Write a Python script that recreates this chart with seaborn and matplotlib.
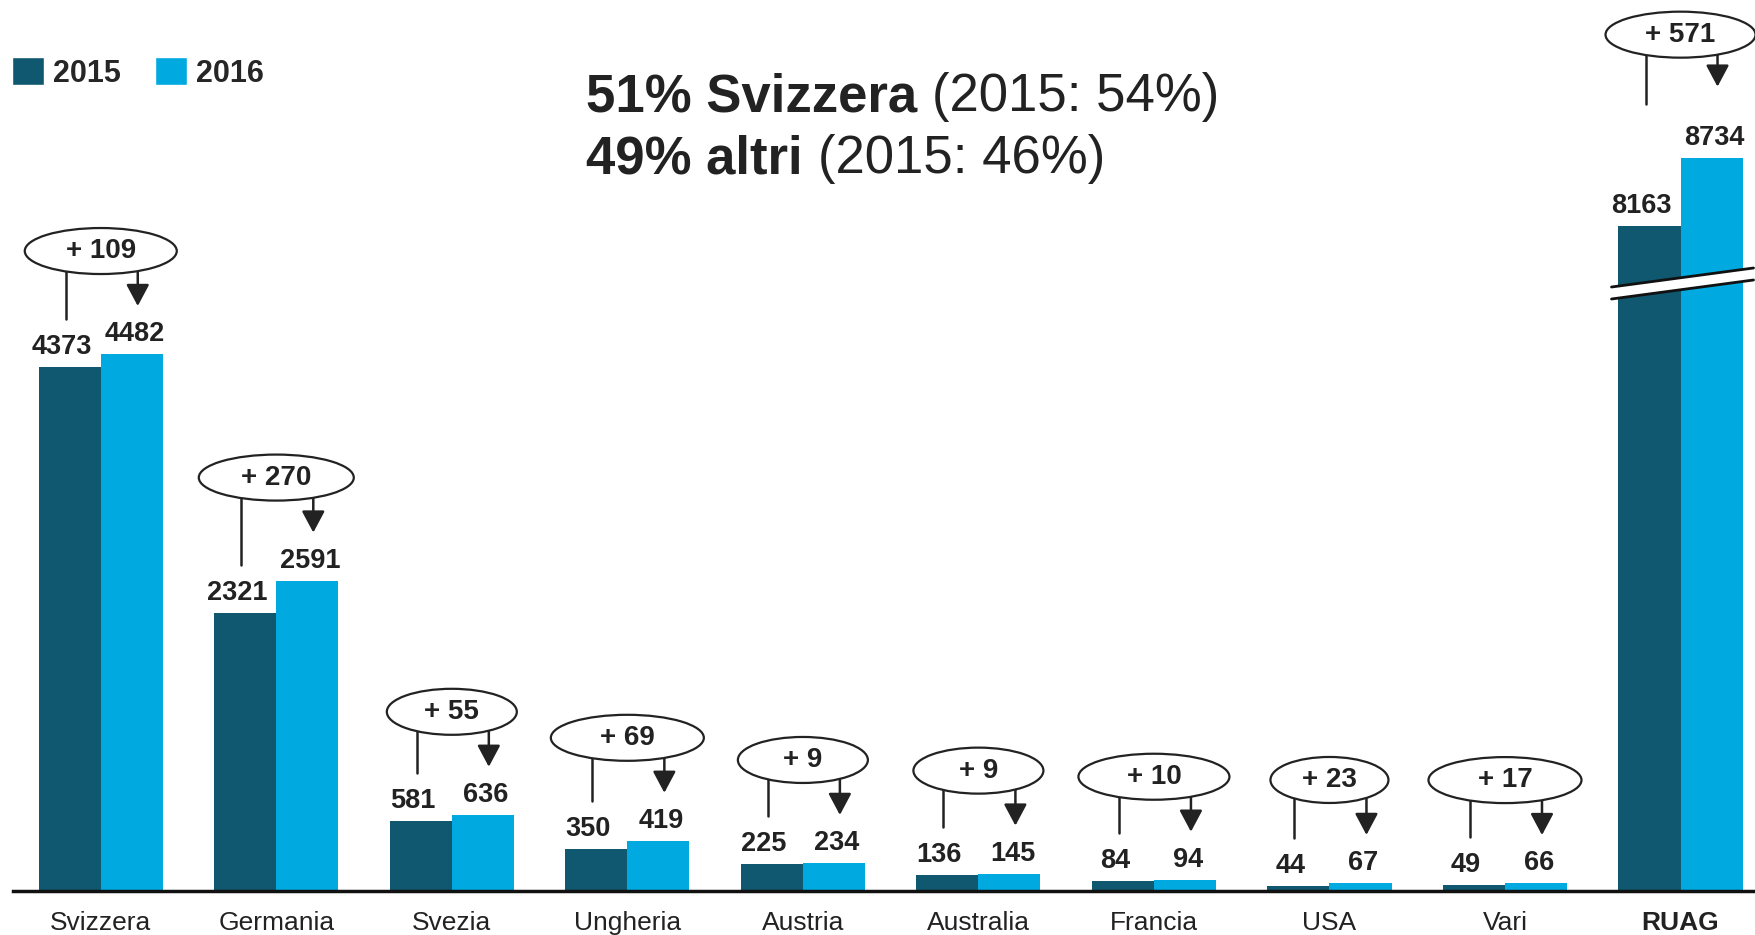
import pandas as pd
import matplotlib.pyplot as plt
import seaborn as sns
from matplotlib.patches import Ellipse, Polygon, Patch

# dati
paesi = ['Svizzera', 'Germania', 'Svezia', 'Ungheria', 'Austria',
         'Australia', 'Francia', 'USA', 'Vari', 'RUAG']
v2015 = [4373, 2321, 581, 350, 225, 136, 84, 44, 49, 8163]
v2016 = [4482, 2591, 636, 419, 234, 145, 94, 67, 66, 8734]
anni = ['2015', '2016']
titolo_bold = ['51% Svizzera', '49% altri']
titolo_reg = ['(2015: 54%)', '(2015: 46%)']

# stile
scuro = '#10586f'
chiaro = '#00aae0'
nero = '#222222'
taglio = 2613          # asse interrotto per RUAG
bubble_w = [152, 155, 130, 153, 130, 130, 151, 118, 153, 150]  # px

sns.set_style('white')
plt.rcParams['font.family'] = ['Liberation Sans', 'DejaVu Sans']

W, H = 1756, 935
YTOP = 7437
fig = plt.figure(figsize=(W / 100, H / 100), dpi=100)
ax = fig.add_axes([13 / W, 44 / H, 1 - 13 / W, 891 / H])


def py(p):
    return p * YTOP / 891


def px(p):
    return p * 9.93 / 1743


righe = []
for i, p in enumerate(paesi):
    off = taglio if p == 'RUAG' else 0
    righe.append({'paese': p, 'anno': '2015', 'valore': v2015[i], 'mostrato': v2015[i] - off})
    righe.append({'paese': p, 'anno': '2016', 'valore': v2016[i], 'mostrato': v2016[i] - off})
df = pd.DataFrame(righe)

sns.barplot(data=df, x='paese', y='mostrato', hue='anno', hue_order=anni,
            palette=[scuro, chiaro], width=0.707, saturation=1, linewidth=0,
            legend=False, ax=ax)

ax.set_xlim(-0.5, 9.43)
ax.set_ylim(0, YTOP)
ax.set_xlabel('')
ax.set_ylabel('')
ax.set_yticks([])
for s in ['top', 'right', 'left']:
    ax.spines[s].set_visible(False)
ax.spines['bottom'].set_linewidth(2.5)
ax.spines['bottom'].set_color('#111111')
ax.tick_params(axis='x', length=0, pad=14.5, labelsize=19, labelcolor=nero)
ax.get_xticklabels()[-1].set_fontweight('bold')

hb = 0.707 / 2
for i, p in enumerate(paesi):
    off = taglio if p == 'RUAG' else 0
    a = v2015[i] - off
    b = v2016[i] - off
    x1 = i - hb / 2
    x2 = i + hb / 2
    ax.text(x1 - px(8), a + py(13), str(v2015[i]), ha='center', va='baseline',
            fontsize=19.5, fontweight='bold', color=nero, zorder=6)
    ax.text(x2 + px(3), b + py(13), str(v2016[i]), ha='center', va='baseline',
            fontsize=19.5, fontweight='bold', color=nero, zorder=6)

    top = max(a, b)
    if p == 'RUAG':
        yc = top + py(123)
        end_l = b + py(54)
        end_r = b + py(71)
    else:
        yc = top + py(103)
        end_l = a + py(48)
        end_r = b + py(48)
    ell = Ellipse((i, yc), px(bubble_w[i]), py(46), facecolor='white',
                  edgecolor=nero, lw=1.6, zorder=5, clip_on=False)
    ax.add_patch(ell)
    ax.text(i, yc, '+ %d' % (v2016[i] - v2015[i]), ha='center', va='center',
            fontsize=20, fontweight='bold', color=nero, zorder=6)
    ax.plot([i - px(35), i - px(35)], [yc, end_l], color=nero, lw=1.8, zorder=4)
    ax.annotate('', xy=(i + px(37), end_r), xytext=(i + px(37), yc),
                arrowprops=dict(arrowstyle='-|>,head_length=0.6,head_width=0.32',
                                mutation_scale=22, lw=1.8, color=nero,
                                shrinkA=0, shrinkB=0), zorder=4)

# segno di interruzione su RUAG
xa, xb = 9 + px(-69), 9 + px(73)
up = (py(604), py(623))
lo = (py(592), py(611))
ax.add_patch(Polygon([(xa, lo[0]), (xb, lo[1]), (xb, up[1]), (xa, up[0])],
                     closed=True, facecolor='white', edgecolor='none', zorder=3))
ax.plot([xa, xb], [up[0], up[1]], color='#111111', lw=2, zorder=4)
ax.plot([xa, xb], [lo[0], lo[1]], color='#111111', lw=2, zorder=4)

# legenda
handles = [Patch(facecolor=scuro), Patch(facecolor=chiaro)]
fig.legend(handles, anni, loc='upper left', bbox_to_anchor=(12 / W, 1 - 57 / H),
           ncol=2, frameon=False, borderpad=0, borderaxespad=0,
           handlelength=1.05, handleheight=1.05, handletextpad=0.3,
           columnspacing=1.1, prop={'size': 22, 'weight': 'bold'})

# titolo
fig.canvas.draw()
rend = fig.canvas.get_renderer()
for k, yb in enumerate([111, 173]):
    t = fig.text(586 / W, 1 - yb / H, titolo_bold[k], fontsize=38,
                 fontweight='bold', color=nero, va='baseline', ha='left')
    ext = t.get_window_extent(rend)
    fig.text((ext.x1 + 15) / W, 1 - yb / H, titolo_reg[k], fontsize=38,
             color=nero, va='baseline', ha='left')

fig.savefig('out.png', dpi=100)
